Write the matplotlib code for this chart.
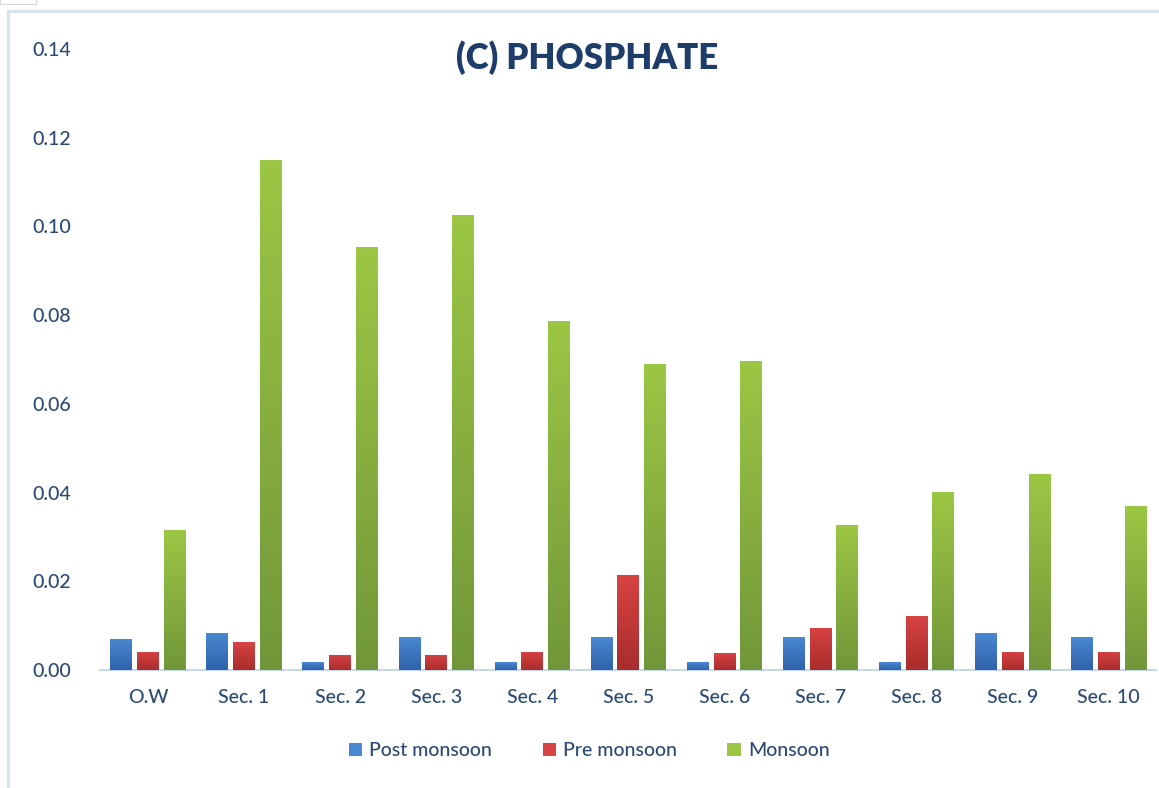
import numpy as np
import matplotlib
matplotlib.use("Agg")
import matplotlib.pyplot as plt
from matplotlib.colors import LinearSegmentedColormap
from matplotlib.patches import Rectangle

plt.rcParams['font.family'] = ['Lato', 'DejaVu Sans']

# data
stations = ['O.W', 'Sec. 1', 'Sec. 2', 'Sec. 3', 'Sec. 4', 'Sec. 5',
            'Sec. 6', 'Sec. 7', 'Sec. 8', 'Sec. 9', 'Sec. 10']
post_monsoon = [0.0070, 0.0083, 0.0018, 0.0074, 0.0018, 0.0074,
                0.0018, 0.0074, 0.0018, 0.0083, 0.0074]
pre_monsoon = [0.0041, 0.0063, 0.0034, 0.0034, 0.0041, 0.0214,
               0.0038, 0.0095, 0.0122, 0.0041, 0.0041]
monsoon = [0.0316, 0.1150, 0.0954, 0.1026, 0.0787, 0.0690,
           0.0697, 0.0327, 0.0401, 0.0442, 0.0370]
series_names = ['Post monsoon', 'Pre monsoon', 'Monsoon']
y_ticks = [0.00, 0.02, 0.04, 0.06, 0.08, 0.10, 0.12, 0.14]

# (top colour, bottom colour) for the gradient fill
grads = [('#4a88d2', '#2f63aa'),
         ('#d84343', '#a92c2c'),
         ('#9cc744', '#71973a')]
txt_col = '#2c4a74'

fig = plt.figure(figsize=(11.59, 7.88), dpi=100)
ax = fig.add_axes([0.0863, 0.1497, 0.9115, 0.7881])

# light blue frame round the chart (runs off the right and bottom edges)
fig.patches.append(Rectangle((8 / 1159, -0.05), 1.2, 1.05 - 11 / 788, transform=fig.transFigure,
                             fill=False, edgecolor='#d6e2f3', lw=2.2))
fig.patches.append(Rectangle((0, 784 / 788), 36 / 1159, 0.01, transform=fig.transFigure,
                             fill=False, edgecolor='#d8d8d8', lw=0.8))

x = np.arange(len(stations))
width = 0.224
offset = 0.28
all_series = [post_monsoon, pre_monsoon, monsoon]

grad = np.linspace(0, 1, 256).reshape(-1, 1)
for i, vals in enumerate(all_series):
    top, bot = grads[i]
    cmap = LinearSegmentedColormap.from_list('g%d' % i, [bot, top])
    bars = ax.bar(x + (i - 1) * offset, vals, width, color=top, edgecolor='none',
                  label=series_names[i], zorder=2)
    for b in bars:
        x0, y0 = b.get_x(), b.get_y()
        im = ax.imshow(grad, cmap=cmap, origin='lower', aspect='auto', zorder=3,
                       extent=[x0, x0 + b.get_width(), y0, y0 + b.get_height()])
        im.set_clip_path(b)

ax.set_xlim(-0.5, 10.5)
ax.set_ylim(0, 0.14)
ax.set_yticks(y_ticks)
ax.set_yticklabels(['%.2f' % t for t in y_ticks])
ax.set_xticks(x)
ax.set_xticklabels(stations)
ax.tick_params(axis='both', length=0, labelsize=14, colors=txt_col)
ax.tick_params(axis='y', pad=21)
ax.tick_params(axis='x', pad=14)
for lab in ax.get_xticklabels() + ax.get_yticklabels():
    lab.set_fontweight('medium')
for s in ['top', 'right', 'left']:
    ax.spines[s].set_visible(False)
ax.spines['bottom'].set_color('#c6d7ee')
ax.spines['bottom'].set_linewidth(1.5)

fig.text(0.507, 0.927, '(C) PHOSPHATE', ha='center', va='center',
         fontsize=25, fontweight='heavy', color='#1f3d6b')

leg = ax.legend(loc='center', bbox_to_anchor=(0.463, -0.13), ncol=3, frameon=False,
                prop={'size': 14, 'weight': 'medium'}, handlelength=0.7, handleheight=0.7,
                handletextpad=0.35, columnspacing=2.6)
for t in leg.get_texts():
    t.set_color(txt_col)

fig.savefig('out.png', dpi=100)
